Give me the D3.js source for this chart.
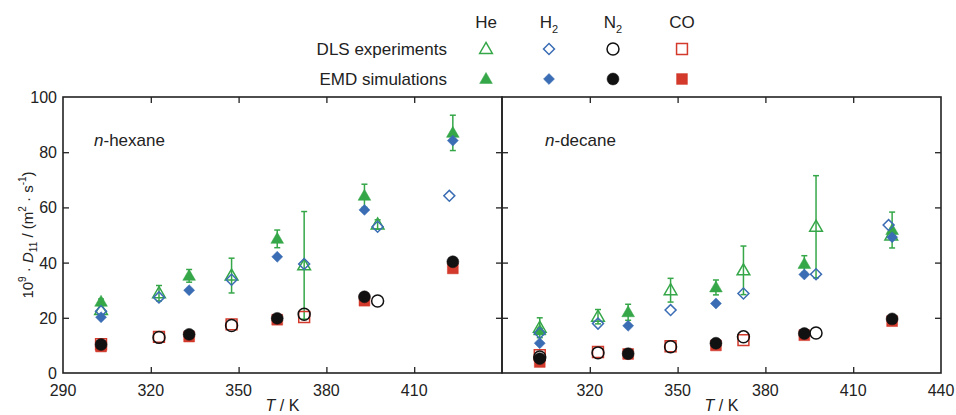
<!DOCTYPE html>
<html><head><meta charset="utf-8">
<script src="https://cdn.jsdelivr.net/npm/d3@7"></script>
<style>
body{margin:0;background:#fff;}
svg{display:block;font-family:"Liberation Sans",Arial,sans-serif;}
</style></head><body>
<svg id="chart" width="956" height="415"></svg>
<script>
// Binary diffusion coefficients 10^9·D11 / (m²·s⁻¹) of dissolved gases vs temperature T / K
// Each entry: [T, D11, uncertainty]
const gases = ["He", "H2", "N2", "CO"];
const methods = ["DLS experiments", "EMD simulations"];
const xTicksLeft = [290, 320, 350, 380, 410];
const xTicksRight = [320, 350, 380, 410, 440];
const yTicks = [0, 20, 40, 60, 80, 100];

// n-hexane
const hexHeDLS = [[303, 22.8, 0], [322.8, 28.9, 2.8], [347.6, 35.3, 6.3], [372.4, 39.0, 19.5], [397.5, 53.8, 1.7]];
const hexH2DLS = [[303, 22.4, 0], [322.8, 27.4, 0], [347.6, 33.8, 0], [372.4, 39.5, 0], [397.5, 53.0, 0], [422.0, 64.2, 0]];
const hexN2DLS = [[322.8, 12.9, 0], [347.6, 17.2, 0], [372.4, 21.3, 0], [397.5, 26.1, 0]];
const hexCODLS = [[303, 10.4, 0], [322.8, 13.1, 0], [347.6, 17.6, 0], [372.4, 20.3, 0]];
const hexHeEMD = [[303, 25.8, 1.0], [333.1, 35.2, 2.3], [363.2, 48.6, 3.2], [393.0, 64.2, 4.2], [423.2, 87.0, 6.4]];
const hexH2EMD = [[303, 20.2, 0], [333.1, 30.0, 0], [363.2, 42.1, 0], [393.0, 59.1, 0], [423.2, 84.2, 0]];
const hexN2EMD = [[303, 10.3, 0], [333.1, 14.0, 0], [363.2, 19.8, 0], [393.0, 27.6, 0], [423.2, 40.3, 0]];
const hexCOEMD = [[303, 9.6, 0], [333.1, 13.2, 0], [363.2, 19.3, 0], [393.0, 26.2, 0], [423.2, 37.9, 0]];

// n-decane
const decHeDLS = [[302.9, 16.4, 3.6], [322.8, 20.4, 2.6], [347.6, 30.0, 4.3], [372.5, 37.2, 8.8], [397.3, 53.0, 18.5], [423.0, 49.8, 0]];
const decH2DLS = [[302.9, 14.5, 0], [322.8, 17.9, 0], [347.6, 22.8, 0], [372.5, 28.8, 0], [397.3, 35.8, 0], [422.1, 53.6, 0]];
const decN2DLS = [[302.9, 5.8, 0], [322.8, 7.3, 0], [347.6, 9.5, 0], [372.5, 13.1, 0], [397.3, 14.5, 0]];
const decCODLS = [[302.9, 6.5, 0], [322.8, 7.6, 0], [347.6, 9.7, 0], [372.5, 11.9, 0]];
const decHeEMD = [[302.9, 15.4, 0.8], [333.1, 22.0, 2.9], [363.1, 31.0, 2.7], [393.3, 39.5, 3.0], [423.3, 51.8, 6.5]];
const decH2EMD = [[302.9, 10.8, 0], [333.1, 17.1, 0], [363.1, 25.2, 0], [393.3, 35.7, 0], [423.3, 49.2, 0]];
const decN2EMD = [[302.9, 5.2, 0], [333.1, 7.0, 0], [363.1, 10.8, 0], [393.3, 14.3, 0], [423.3, 19.6, 0]];
const decCOEMD = [[302.9, 4.0, 0], [333.1, 6.9, 0], [363.1, 10.0, 0], [393.3, 13.7, 0], [423.3, 18.8, 0]];

const colors = {He: "#35a748", H2: "#3b6db4", N2: "#111111", CO: "#d33a2c"};
const shapes = {He: "triangle", H2: "diamond", N2: "circle", CO: "square"};

const svg = d3.select("#chart");
const frameColor = "#222";
const plotTop = 97, plotBottom = 373;
const y = d3.scaleLinear().domain([0, 100]).range([plotBottom, plotTop]);

const panels = [
  {name: "hexane", x0: 63, x1: 502, ticks: xTicksLeft,
   data: {He: [hexHeDLS, hexHeEMD], H2: [hexH2DLS, hexH2EMD], N2: [hexN2DLS, hexN2EMD], CO: [hexCODLS, hexCOEMD]}},
  {name: "decane", x0: 502, x1: 941, ticks: xTicksRight,
   data: {He: [decHeDLS, decHeEMD], H2: [decH2DLS, decH2EMD], N2: [decN2DLS, decN2EMD], CO: [decCODLS, decCOEMD]}}
];

function markerPath(shape) {
  if (shape === "triangle") return d3.symbol(d3.symbolTriangle, 70)();
  if (shape === "diamond") return d3.symbol(d3.symbolSquare, 60)();
  if (shape === "circle") return d3.symbol(d3.symbolCircle, 112)();
  return d3.symbol(d3.symbolSquare, 118)();
}
function drawMarker(g, gas, open, cx, cy) {
  const shape = shapes[gas];
  const rot = shape === "diamond" ? " rotate(45)" : "";
  const dy = shape === "triangle" ? 0.8 : 0;
  g.append("path")
    .attr("d", markerPath(shape))
    .attr("transform", `translate(${cx},${cy + dy})${rot}`)
    .attr("fill", open ? "none" : colors[gas])
    .attr("stroke", colors[gas])
    .attr("stroke-width", open ? 1.5 : 0.5);
}

panels.forEach((p, i) => {
  const x = d3.scaleLinear().domain([290, 440]).range([p.x0, p.x1]);
  const g = svg.append("g");

  // inward ticks on all four sides
  const tickLen = 6;
  const inner = p.ticks.filter(t => t > 290 && t < 440);
  g.append("g").attr("transform", `translate(0,${plotBottom})`)
    .call(d3.axisBottom(x).tickValues(inner).tickSize(-tickLen).tickFormat(""))
    .call(a => a.select(".domain").remove());
  g.append("g").attr("transform", `translate(0,${plotTop})`)
    .call(d3.axisTop(x).tickValues(inner).tickSize(-tickLen).tickFormat(""))
    .call(a => a.select(".domain").remove());
  g.append("g").attr("transform", `translate(${p.x0},0)`)
    .call(d3.axisLeft(y).tickValues(yTicks.slice(1, -1)).tickSize(-tickLen).tickFormat(""))
    .call(a => a.select(".domain").remove());
  g.append("g").attr("transform", `translate(${p.x1},0)`)
    .call(d3.axisRight(y).tickValues(yTicks.slice(1, -1)).tickSize(-tickLen).tickFormat(""))
    .call(a => a.select(".domain").remove());
  g.selectAll(".tick line").attr("stroke", frameColor).attr("stroke-width", 1.3);

  // x tick labels
  g.append("g").selectAll("text").data(p.ticks).join("text")
    .attr("x", d => x(d)).attr("y", 396)
    .attr("text-anchor", "middle").attr("font-size", 16).attr("fill", "#222")
    .text(d => d);

  // frame
  g.append("rect").attr("x", p.x0).attr("y", plotTop)
    .attr("width", p.x1 - p.x0).attr("height", plotBottom - plotTop)
    .attr("fill", "none").attr("stroke", frameColor).attr("stroke-width", 1.6);

  // panel label
  const lbl = g.append("text").attr("x", p.x0 + 31 + (i ? 12 : 0)).attr("y", 146)
    .attr("font-size", 17).attr("fill", "#222");
  lbl.append("tspan").attr("font-style", "italic").text("n");
  lbl.append("tspan").text("-" + p.name);

  // x axis title
  const xt = g.append("text").attr("x", (p.x0 + p.x1) / 2).attr("y", 411)
    .attr("text-anchor", "middle").attr("font-size", 16).attr("fill", "#222");
  xt.append("tspan").attr("font-style", "italic").text("T");
  xt.append("tspan").text(" / K");

  // data: draw order He, H2, CO, N2
  const marks = g.append("g");
  ["He", "H2", "CO", "N2"].forEach(gas => {
    p.data[gas].forEach((series, m) => {
      series.forEach(([T, D, e]) => {
        if (e > 0) {
          const cx = x(T);
          marks.append("line").attr("x1", cx).attr("x2", cx)
            .attr("y1", y(D - e)).attr("y2", y(D + e))
            .attr("stroke", colors[gas]).attr("stroke-width", 1.5);
          [D - e, D + e].forEach(v => marks.append("line")
            .attr("x1", cx - 3).attr("x2", cx + 3).attr("y1", y(v)).attr("y2", y(v))
            .attr("stroke", colors[gas]).attr("stroke-width", 1.5));
        }
      });
      series.forEach(([T, D]) => drawMarker(marks, gas, m === 0, x(T), y(D)));
    });
  });
});

// y tick labels (left panel only)
svg.append("g").selectAll("text").data(yTicks).join("text")
  .attr("x", 57).attr("y", d => y(d) + 6)
  .attr("text-anchor", "end").attr("font-size", 16).attr("fill", "#222")
  .text(d => d);

// y axis title
const yt = svg.append("text").attr("transform", `translate(33,235) rotate(-90)`)
  .attr("text-anchor", "middle").attr("font-size", 15).attr("fill", "#222");
yt.append("tspan").text("10");
yt.append("tspan").attr("font-size", 10).attr("dy", -7).text("9");
yt.append("tspan").attr("dy", 7).text(" · ");
yt.append("tspan").attr("font-style", "italic").text("D");
yt.append("tspan").attr("font-size", 10).attr("dy", 4).text("11");
yt.append("tspan").attr("dy", -4).text(" / (m");
yt.append("tspan").attr("font-size", 10).attr("dy", -7).text("2");
yt.append("tspan").attr("dy", 7).text(" · s");
yt.append("tspan").attr("font-size", 10).attr("dy", -7).text("-1");
yt.append("tspan").attr("dy", 7).text(")");

// legend
const legX = {He: 486, H2: 549, N2: 613, CO: 682};
const legRowY = [49, 79];
const leg = svg.append("g");
gases.forEach(gas => {
  const t = leg.append("text").attr("x", legX[gas]).attr("y", 28)
    .attr("text-anchor", "middle").attr("font-size", 17).attr("fill", "#222");
  if (gas.endsWith("2")) {
    t.append("tspan").text(gas[0]);
    t.append("tspan").attr("font-size", 11).attr("dy", 5).text("2");
  } else t.text(gas);
  methods.forEach((m, k) => drawMarker(leg, gas, k === 0, legX[gas], legRowY[k]));
});
methods.forEach((m, k) => leg.append("text").attr("x", 447).attr("y", legRowY[k] + 6)
  .attr("text-anchor", "end").attr("font-size", 17).attr("fill", "#222").text(m));
</script>
</body></html>
